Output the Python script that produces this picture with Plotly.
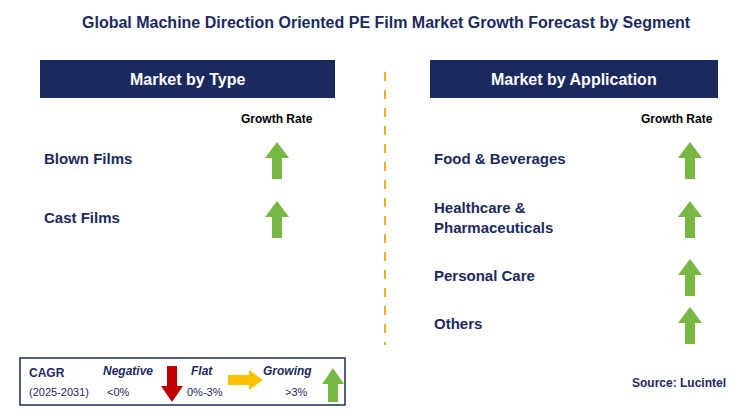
import plotly.graph_objects as go

title = "Global Machine Direction Oriented PE Film Market Growth Forecast by Segment"
type_items = ["Blown Films", "Cast Films"]
type_y = [158, 217]
app_items = ["Food & Beverages", "Healthcare &<br>Pharmaceuticals", "Personal Care", "Others"]
app_y = [158, 217, 275, 323]
NAVY = "#1b2a5e"
GREEN = "#77b843"
FONT = "Arial, Liberation Sans"


def up_arrow(cx, top, bottom, w=22, shaft=10, head=16):
    return (f"M{cx-shaft/2},{bottom} L{cx-shaft/2},{top+head} L{cx-w/2},{top+head} "
            f"L{cx},{top} L{cx+w/2},{top+head} L{cx+shaft/2},{top+head} L{cx+shaft/2},{bottom} Z")


def down_arrow(cx, top, bottom, w=22, shaft=10, head=16):
    return (f"M{cx-shaft/2},{top} L{cx-shaft/2},{bottom-head} L{cx-w/2},{bottom-head} "
            f"L{cx},{bottom} L{cx+w/2},{bottom-head} L{cx+shaft/2},{bottom-head} L{cx+shaft/2},{top} Z")


def right_arrow(left, right, cy, h=20, shaft=10, head=14):
    return (f"M{left},{cy-shaft/2} L{right-head},{cy-shaft/2} L{right-head},{cy-h/2} "
            f"L{right},{cy} L{right-head},{cy+h/2} L{right-head},{cy+shaft/2} L{left},{cy+shaft/2} Z")


shapes = [
    dict(type="rect", x0=40, x1=335, y0=60, y1=98, fillcolor=NAVY, line_width=0),
    dict(type="rect", x0=430, x1=718, y0=60, y1=98, fillcolor=NAVY, line_width=0),
    dict(type="line", x0=385, x1=385, y0=72, y1=345, line=dict(color="#f2b01e", width=2, dash="dash")),
    dict(type="rect", x0=20, x1=345, y0=358, y1=405, line=dict(color=NAVY, width=1.5)),
    dict(type="path", path=down_arrow(172, 366, 402), fillcolor="#c00000", line_width=0),
    dict(type="path", path=right_arrow(228, 263, 380), fillcolor="#ffc000", line_width=0),
    dict(type="path", path=up_arrow(333, 368, 402), fillcolor=GREEN, line_width=0),
]
for y in type_y:
    shapes.append(dict(type="path", path=up_arrow(277, y - 16, y + 21, w=24), fillcolor=GREEN, line_width=0))
for y in app_y:
    shapes.append(dict(type="path", path=up_arrow(690, y - 16, y + 21, w=24), fillcolor=GREEN, line_width=0))

ann = []


def txt(x, y, s, size=13, color="black", xanchor="left", bold=True, italic=False):
    if bold:
        s = f"<b>{s}</b>"
    if italic:
        s = f"<i>{s}</i>"
    ann.append(dict(x=x, y=y, text=s, showarrow=False, xanchor=xanchor, yanchor="middle",
                    align=xanchor if xanchor != "center" else "center",
                    font=dict(size=size, color=color, family=FONT)))


txt(386, 22, title, size=16, color=NAVY, xanchor="center")
txt(187, 79, "Market by Type", size=16, color="white", xanchor="center")
txt(574, 79, "Market by Application", size=16, color="white", xanchor="center")
txt(277, 119, "Growth Rate", size=12, xanchor="center")
txt(677, 119, "Growth Rate", size=12, xanchor="center")
for s, y in zip(type_items, type_y):
    txt(42, y, s, size=15, color=NAVY)
for s, y in zip(app_items, app_y):
    txt(432, y, s, size=15, color=NAVY)
txt(27, 373, "CAGR", size=12, color=NAVY)
txt(27, 392, "(2025-2031)", size=11, color=NAVY, bold=False)
txt(128, 371, "Negative", size=12, color=NAVY, xanchor="center", italic=True)
txt(118, 392, "&lt;0%", size=11, color=NAVY, xanchor="center", bold=False)
txt(202, 371, "Flat", size=12, color=NAVY, xanchor="center", italic=True)
txt(205, 392, "0%-3%", size=11, color=NAVY, xanchor="center", bold=False)
txt(287, 371, "Growing", size=12, color=NAVY, xanchor="center", italic=True)
txt(296, 392, "&gt;3%", size=11, color=NAVY, xanchor="center", bold=False)
txt(728, 383, "Source: Lucintel", size=12, color=NAVY, xanchor="right")

fig = go.Figure()
fig.update_layout(
    width=744, height=420, margin=dict(l=0, r=0, t=0, b=0),
    paper_bgcolor="white", plot_bgcolor="white",
    xaxis=dict(range=[8, 752], visible=False, fixedrange=True),
    yaxis=dict(range=[428, 8], visible=False, fixedrange=True),
    shapes=shapes, annotations=ann, showlegend=False,
)
fig.write_html("out.html")
